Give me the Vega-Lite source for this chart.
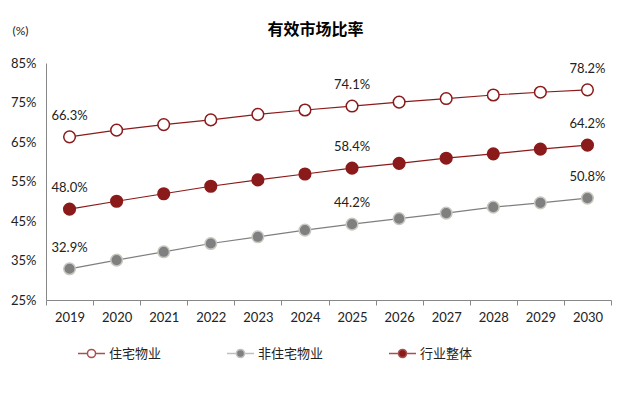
{
  "$schema": "https://vega.github.io/schema/vega-lite/v6.json",
  "width": 565,
  "height": 237,
  "autosize": "none",
  "padding": {"left": 46, "top": 63, "right": 6, "bottom": 94},
  "background": "white",
  "title": {
    "text": "有效市场比率",
    "font": "Noto Sans CJK SC",
    "fontSize": 16,
    "fontWeight": "bold",
    "color": "#000000",
    "anchor": "middle",
    "dx": -13,
    "offset": -14
  },
  "data": {
    "values": [
      {"year": "2019", "series": "住宅物业", "value": 66.3, "label": "66.3%"},
      {"year": "2020", "series": "住宅物业", "value": 68.0, "label": ""},
      {"year": "2021", "series": "住宅物业", "value": 69.4, "label": ""},
      {"year": "2022", "series": "住宅物业", "value": 70.6, "label": ""},
      {"year": "2023", "series": "住宅物业", "value": 72.0, "label": ""},
      {"year": "2024", "series": "住宅物业", "value": 73.1, "label": ""},
      {"year": "2025", "series": "住宅物业", "value": 74.1, "label": "74.1%"},
      {"year": "2026", "series": "住宅物业", "value": 75.1, "label": ""},
      {"year": "2027", "series": "住宅物业", "value": 76.0, "label": ""},
      {"year": "2028", "series": "住宅物业", "value": 76.9, "label": ""},
      {"year": "2029", "series": "住宅物业", "value": 77.6, "label": ""},
      {"year": "2030", "series": "住宅物业", "value": 78.2, "label": "78.2%"},
      {"year": "2019", "series": "非住宅物业", "value": 32.9, "label": "32.9%"},
      {"year": "2020", "series": "非住宅物业", "value": 35.1, "label": ""},
      {"year": "2021", "series": "非住宅物业", "value": 37.2, "label": ""},
      {"year": "2022", "series": "非住宅物业", "value": 39.3, "label": ""},
      {"year": "2023", "series": "非住宅物业", "value": 41.0, "label": ""},
      {"year": "2024", "series": "非住宅物业", "value": 42.7, "label": ""},
      {"year": "2025", "series": "非住宅物业", "value": 44.2, "label": "44.2%"},
      {"year": "2026", "series": "非住宅物业", "value": 45.6, "label": ""},
      {"year": "2027", "series": "非住宅物业", "value": 47.0, "label": ""},
      {"year": "2028", "series": "非住宅物业", "value": 48.5, "label": ""},
      {"year": "2029", "series": "非住宅物业", "value": 49.6, "label": ""},
      {"year": "2030", "series": "非住宅物业", "value": 50.8, "label": "50.8%"},
      {"year": "2019", "series": "行业整体", "value": 48.0, "label": "48.0%"},
      {"year": "2020", "series": "行业整体", "value": 50.0, "label": ""},
      {"year": "2021", "series": "行业整体", "value": 51.9, "label": ""},
      {"year": "2022", "series": "行业整体", "value": 53.8, "label": ""},
      {"year": "2023", "series": "行业整体", "value": 55.4, "label": ""},
      {"year": "2024", "series": "行业整体", "value": 56.9, "label": ""},
      {"year": "2025", "series": "行业整体", "value": 58.4, "label": "58.4%"},
      {"year": "2026", "series": "行业整体", "value": 59.6, "label": ""},
      {"year": "2027", "series": "行业整体", "value": 60.9, "label": ""},
      {"year": "2028", "series": "行业整体", "value": 62.0, "label": ""},
      {"year": "2029", "series": "行业整体", "value": 63.2, "label": ""},
      {"year": "2030", "series": "行业整体", "value": 64.2, "label": "64.2%"}
    ]
  },
  "encoding": {
    "x": {
      "field": "year",
      "type": "ordinal",
      "scale": {"paddingInner": 0, "paddingOuter": 0},
      "axis": {
        "title": null,
        "labelAngle": 0,
        "labelFont": "Lato",
        "labelFontSize": 13,
        "labelColor": "#222222",
        "labelPadding": 6,
        "domainColor": "#888888",
        "tickColor": "#888888",
        "tickSize": 5,
        "tickBand": "extent",
        "grid": false
      }
    },
    "y": {
      "field": "value",
      "type": "quantitative",
      "scale": {"domain": [25, 85], "nice": false, "zero": false},
      "axis": {
        "title": "(%)",
        "titleAngle": 0,
        "titleX": -26,
        "titleY": -33,
        "titleAlign": "center",
        "titleBaseline": "middle",
        "titleFont": "Lato",
        "titleFontSize": 12,
        "titleFontWeight": "normal",
        "titleColor": "#222222",
        "values": [25, 35, 45, 55, 65, 75, 85],
        "labelExpr": "datum.value + '%'",
        "labelFont": "Lato",
        "labelFontSize": 13,
        "labelColor": "#222222",
        "labelPadding": 10,
        "ticks": false,
        "grid": false,
        "domainColor": "#888888"
      }
    }
  },
  "layer": [
    {
      "mark": {"type": "line", "strokeWidth": 1.2},
      "encoding": {
        "stroke": {
          "field": "series",
          "type": "nominal",
          "scale": {"domain": ["住宅物业", "非住宅物业", "行业整体"], "range": ["#8B1A1A", "#7F7F7F", "#8B1A1A"]},
          "legend": null
        }
      }
    },
    {
      "mark": {"type": "point", "filled": true, "size": 135, "strokeWidth": 1.5, "opacity": 1},
      "encoding": {
        "stroke": {
          "field": "series",
          "type": "nominal",
          "scale": {"domain": ["住宅物业", "非住宅物业", "行业整体"], "range": ["#8B1A1A", "#C8C8C0", "#8B1A1A"]},
          "legend": null
        },
        "fill": {
          "field": "series",
          "type": "nominal",
          "scale": {"domain": ["住宅物业", "非住宅物业", "行业整体"], "range": ["#FFFFFF", "#808080", "#8B1A1A"]},
          "legend": {
            "title": null,
            "orient": "none",
            "direction": "horizontal",
            "gridAlign": "none",
            "legendX": 31,
            "legendY": 276,
            "symbolType": "M-1,0L-0.3,0M0.3,0L1,0M-0.3,0A0.3,0.3,0,1,1,0.3,0A0.3,0.3,0,1,1,-0.3,0Z",
            "symbolSize": 729,
            "symbolStrokeWidth": 1.5,
            "symbolOpacity": 1,
            "labelFont": "Noto Sans CJK SC",
            "labelFontSize": 13,
            "labelColor": "#222222",
            "labelOffset": 3,
            "columnPadding": 62,
            "encode": {
              "symbols": {
                "update": {
                  "stroke": {"signal": "datum.value === '非住宅物业' ? '#BFBFBF' : '#A85050'"}
                }
              }
            }
          }
        }
      }
    },
    {
      "transform": [{"filter": "datum.label != ''"}],
      "mark": {"type": "text", "dy": -21, "font": "Lato", "fontSize": 13, "color": "#222222", "align": "center", "baseline": "middle"},
      "encoding": {
        "text": {"field": "label", "type": "nominal"}
      }
    }
  ],
  "resolve": {"scale": {"stroke": "independent"}},
  "config": {
    "view": {"stroke": null},
    "axis": {"domainWidth": 1}
  }
}
